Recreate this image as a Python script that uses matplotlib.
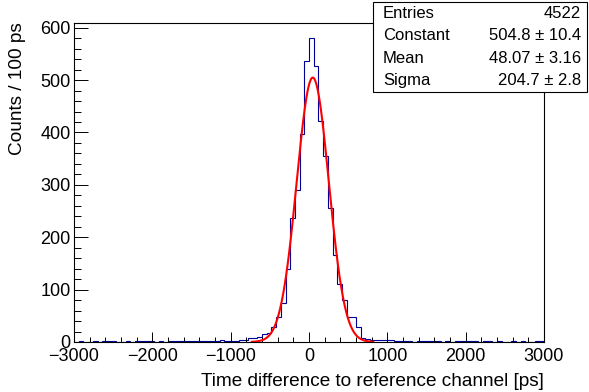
import numpy as np
import matplotlib
matplotlib.use('Agg')
from matplotlib import pyplot as plt
from matplotlib.ticker import MultipleLocator

plt.rcParams['font.family'] = ['Liberation Sans', 'DejaVu Sans']

# histogram: 100 bins of 60 ps from -3000 to 3000 ps
X_MIN, X_MAX, N_BINS = -3000, 3000, 100
COUNTS = [
    0, 1, 0, 0, 1, 0, 1, 2, 1, 0,
    0, 1, 0, 1, 2, 2, 1, 0, 1, 0,
    1, 2, 2, 1, 2, 2, 1, 1, 2, 2,
    2, 3, 2, 1, 2, 3, 4, 8, 7, 9,
    15, 18, 28, 47, 74, 140, 236, 290, 397, 536,
    580, 526, 421, 355, 255, 167, 110, 81, 48, 48,
    29, 8, 6, 4, 4, 3, 4, 4, 2, 1,
    1, 1, 0, 1, 1, 2, 2, 1, 0, 1,
    0, 2, 2, 1, 2, 2, 0, 1, 1, 0,
    1, 0, 0, 1, 0, 1, 0, 0, 1, 2,
]

# gaussian fit result
FIT_CONST, FIT_MEAN, FIT_SIGMA = 504.8, 48.07, 204.7
FIT_RANGE = (-730, 820)

STAT_NAMES = ['Entries', 'Constant', 'Mean', 'Sigma']
STAT_VALUES = ['4522', '504.8 \u00b1 10.4', '48.07 \u00b1 3.16', '204.7 \u00b1 2.8']

W, H = 589, 392
fig = plt.figure(figsize=(W / 100, H / 100), dpi=100)
ax = fig.add_axes([74 / W, 1 - 342 / H, 470 / W, 319 / H])

edges = np.linspace(X_MIN, X_MAX, N_BINS + 1)
ax.stairs(COUNTS, edges, color='#000099', lw=0.8, baseline=0)

xf = np.linspace(FIT_RANGE[0], FIT_RANGE[1], 400)
yf = FIT_CONST * np.exp(-0.5 * ((xf - FIT_MEAN) / FIT_SIGMA) ** 2)
ax.plot(xf, yf, color='#ff0000', lw=1.5)

ax.set_xlim(X_MIN, X_MAX)
ax.set_ylim(0, max(COUNTS) * 1.05)

ax.xaxis.set_major_locator(MultipleLocator(1000))
ax.xaxis.set_minor_locator(MultipleLocator(200))
ax.yaxis.set_major_locator(MultipleLocator(100))
ax.yaxis.set_minor_locator(MultipleLocator(20))
ax.tick_params(axis='both', which='both', direction='in', width=0.7,
               labelsize=13, top=False, right=False)
ax.tick_params(axis='x', which='major', length=7.2, pad=4.5)
ax.tick_params(axis='x', which='minor', length=3.6)
ax.tick_params(axis='y', which='major', length=10, pad=2.5)
ax.tick_params(axis='y', which='minor', length=5)
for s in ax.spines.values():
    s.set_linewidth(0.8)

fig.text(544 / W, 1 - 381 / H, 'Time difference to reference channel [ps]',
         ha='right', va='center', fontsize=13.7)
fig.text(18 / W, 1 - 22 / H, 'Counts / 100 ps', rotation=90,
         ha='center', va='top', fontsize=13.7)

# stat box
bx0, bx1, by0, by1 = 373, 587, 2, 92
box = plt.Rectangle((bx0 / W, 1 - by1 / H), (bx1 - bx0) / W, (by1 - by0) / H,
                    transform=fig.transFigure, facecolor='white',
                    edgecolor='black', lw=0.8, zorder=5)
fig.patches.append(box)
line_h = (by1 - by0) / len(STAT_NAMES)
for i, (name, val) in enumerate(zip(STAT_NAMES, STAT_VALUES)):
    yc = 1 - (by0 + line_h * (i + 0.5)) / H
    fig.text(383 / W, yc, name, ha='left', va='center', fontsize=12, zorder=6)
    fig.text(581 / W, yc, val, ha='right', va='center', fontsize=12, zorder=6)

fig.savefig('out.png', dpi=100)
